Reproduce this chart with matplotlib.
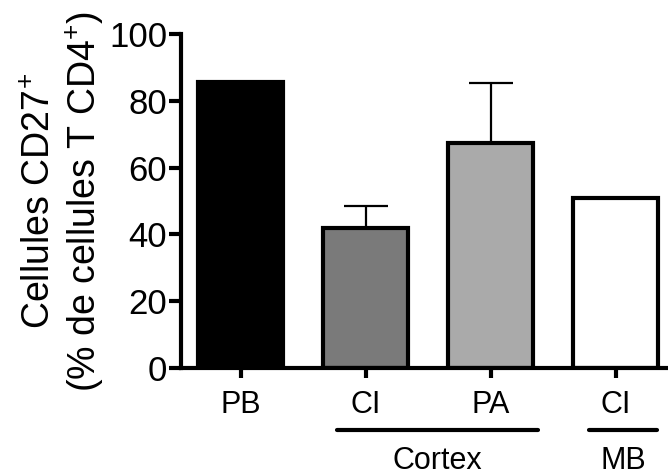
import matplotlib.pyplot as plt
import numpy as np

plt.rcParams['font.family'] = ['Liberation Sans', 'DejaVu Sans']
plt.rcParams['mathtext.fontset'] = 'custom'
plt.rcParams['mathtext.rm'] = 'Liberation Sans'
plt.rcParams['mathtext.it'] = 'Liberation Sans'

categories = ['PB', 'CI', 'PA', 'CI']
values = [85.5, 41.8, 67.5, 51.0]
errors = [0.0, 6.8, 17.9, 0.0]
colors = ['#000000', '#7a7a7a', '#aaaaaa', '#ffffff']
groups = ['Cortex', 'MB']
group_spans = [(0.77, 2.38), (2.79, 3.33)]

fig = plt.figure(figsize=(6.68, 4.76), dpi=100)
ax = fig.add_axes([181 / 668, 1 - 368 / 476, 1 - 181 / 668, 334 / 476])

x = np.arange(len(categories))
ax.bar(x, values, width=0.68, color=colors, edgecolor='black', linewidth=3, zorder=2)
has_err = [i for i, e in enumerate(errors) if e > 0]
ax.errorbar(x[has_err], np.array(values)[has_err],
            yerr=[np.zeros(len(has_err)), np.array(errors)[has_err]],
            fmt='none', ecolor='black', elinewidth=1.6, capsize=16, capthick=1.6, zorder=1)

ax.set_xlim(-0.48, 3.42)
ax.set_ylim(0, 100)
ax.set_yticks([0, 20, 40, 60, 80, 100])
ax.set_xticks(x)
ax.set_xticklabels(categories)
ax.tick_params(axis='y', labelsize=25, width=3, length=9, pad=1)
ax.tick_params(axis='x', labelsize=22, width=3, length=7, pad=9)
for s in ['top', 'right']:
    ax.spines[s].set_visible(False)
for s in ['left', 'bottom']:
    ax.spines[s].set_linewidth(3)

ax.set_ylabel('Cellules CD27$^{+}$\n(% de cellules T CD4$^{+}$)', fontsize=27, labelpad=2,
              linespacing=1.2)

trans = ax.get_xaxis_transform()
for name, (a, b) in zip(groups, group_spans):
    ax.plot([a, b], [-0.186, -0.186], color='black', lw=3, transform=trans,
            clip_on=False, solid_capstyle='round')
    ax.text((a + b) / 2, -0.235, name, transform=trans, ha='center', va='top', fontsize=22)

fig.savefig('out.png', dpi=100)
